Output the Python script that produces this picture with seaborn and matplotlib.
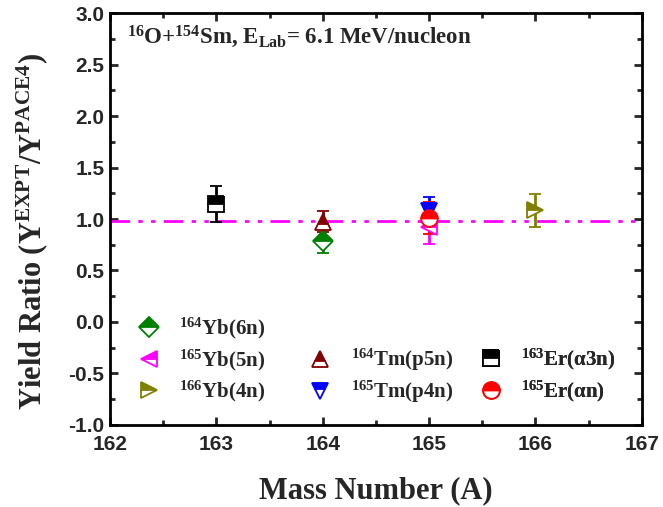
import numpy as np
import pandas as pd
import matplotlib
matplotlib.use("Agg")
import matplotlib.pyplot as plt
from matplotlib.lines import Line2D
from matplotlib.ticker import MultipleLocator
import seaborn as sns

# ---- data ----
labels = ["$^{164}$Yb(6n)", "$^{165}$Yb(5n)", "$^{166}$Yb(4n)",
          "$^{164}$Tm(p5n)", "$^{165}$Tm(p4n)",
          "$^{163}$Er(\u03b13n)", "$^{165}$Er(\u03b1n)"]
mass = [164, 165, 166, 164, 165, 163, 165]
ratio = [0.79, 0.92, 1.09, 0.97, 1.08, 1.15, 1.01]
err_low = [0.67, 0.76, 0.92, 0.87, 0.93, 0.97, 0.85]
err_high = [0.92, 1.05, 1.24, 1.08, 1.21, 1.32, 1.17]
ref_x = [162, 167]
ref_y = [0.98, 0.98]

colors = ["#008000", "#ff00ff", "#808000", "#800000", "#0000ff", "#000000", "#ff0000"]
markers = ["D", "<", ">", "^", "v", "s", "o"]
msizes = [10, 12, 12, 12, 12, 11, 12]

sns.set_theme(style="ticks")
plt.rcParams["font.family"] = ["Liberation Serif", "DejaVu Serif"]
plt.rcParams["mathtext.fontset"] = "custom"
plt.rcParams["mathtext.rm"] = "Liberation Serif:bold"
plt.rcParams["mathtext.it"] = "Liberation Serif:bold"
plt.rcParams["mathtext.bf"] = "Liberation Serif:bold"

fig = plt.figure(figsize=(6.63, 5.07), dpi=100)
ax = fig.add_axes([0.166, 0.162, 0.802, 0.812])

df_ref = pd.DataFrame({"x": ref_x, "y": ref_y})
sns.lineplot(data=df_ref, x="x", y="y", ax=ax, color="#ff00ff", lw=2,
             dashes=False, legend=False)
ax.lines[-1].set_dashes([7, 3, 1.6, 3, 1.6, 3])

handles = []
for i in range(len(labels)):
    y = ratio[i]
    yerr = [[y - err_low[i]], [err_high[i] - y]]
    ax.errorbar([mass[i]], [y], yerr=yerr, fmt=markers[i], color=colors[i],
                ms=msizes[i], mfc=colors[i], mec=colors[i], mfcalt="white",
                fillstyle="top", mew=1.3, elinewidth=2, capsize=4, capthick=2,
                zorder=3)
    handles.append(Line2D([], [], ls="none", marker=markers[i], color=colors[i],
                          ms=msizes[i], mfc=colors[i], mec=colors[i],
                          mfcalt="white", fillstyle="top", mew=1.3,
                          label=labels[i]))

prop = {"family": "Liberation Serif", "weight": "bold", "size": 15}
groups = [[0, 1, 2], [3, 4], [5, 6]]
col_x = [0.049, 0.372, 0.692]
row_top = 0.264
row_step = 0.075
for ci, idx in enumerate(groups):
    hs = [handles[k] for k in idx]
    top = row_top if ci == 0 else row_top - row_step
    leg = ax.legend(handles=hs, loc="upper left", bbox_to_anchor=(col_x[ci], top),
                    frameon=False, prop=prop, handlelength=1.2,
                    handletextpad=0.85, labelspacing=0.29, borderaxespad=0,
                    borderpad=0)
    ax.add_artist(leg)

ax.set_xlim(162, 167)
ax.set_ylim(-1.0, 3.0)
ax.xaxis.set_major_locator(MultipleLocator(1))
ax.xaxis.set_minor_locator(MultipleLocator(0.5))
ax.yaxis.set_minor_locator(MultipleLocator(0.25))
ax.set_yticks(np.arange(-1.0, 3.01, 0.5))
ax.set_yticklabels([f"{v:.1f}" for v in np.arange(-1.0, 3.01, 0.5)])
ax.tick_params(which="both", direction="in", top=True, right=True, width=2)
ax.tick_params(which="major", length=6, pad=4)
ax.tick_params(axis="x", which="major", pad=7)
ax.tick_params(which="minor", length=3.5)
for lab in ax.get_xticklabels() + ax.get_yticklabels():
    lab.set_fontfamily("Liberation Sans")
    lab.set_fontweight("bold")
    lab.set_fontsize(15)
for sp in ax.spines.values():
    sp.set_linewidth(2)
    sp.set_color("black")

ax.set_xlabel("Mass Number (A)", fontsize=22, fontweight="bold", labelpad=16)
ax.set_ylabel("Yield Ratio (Y$^{EXPT}$/Y$^{PACE4}$)", fontsize=22,
              fontweight="bold")
ax.yaxis.set_label_coords(-0.113, 0.47)

ax.text(0.032, 0.942, "$^{16}$O+$^{154}$Sm, E$_{Lab}$= 6.1 MeV/nucleon",
        transform=ax.transAxes, fontsize=16.5, fontweight="bold",
        va="center", ha="left")

fig.savefig("out.png", dpi=100)
